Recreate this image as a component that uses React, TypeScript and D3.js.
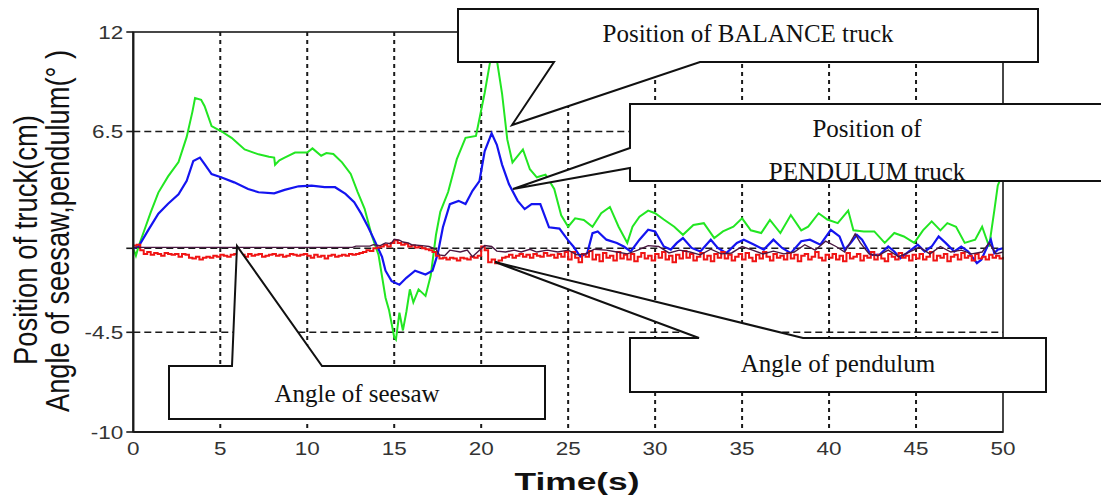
import React from "react";
import * as d3 from "d3";

// Position of BALANCE truck (cm), [time s, value]
const balanceTruck: [number, number][] = [
  [0, 0], [0.15, -0.4], [0.3, 0.1], [0.67, 1.1], [1.0, 2.0], [1.44, 3.1], [2.0, 4.0], [2.6, 4.8],
  [3.07, 6.2], [3.4, 7.6], [3.55, 8.35], [3.9, 8.25], [4.1, 7.9], [4.5, 6.8], [5.08, 6.5], [5.65, 6.15],
  [6.0, 5.85], [6.4, 5.5], [7.2, 5.23], [7.8, 5.1], [8.1, 5.05], [8.15, 4.65], [8.4, 4.9], [8.7, 5.05],
  [9.3, 5.33], [10.0, 5.33], [10.3, 5.56], [10.8, 5.15], [11.1, 5.3], [11.5, 5.25], [12.0, 4.78],
  [12.5, 4.14], [12.9, 3.13], [13.3, 2.2], [13.7, 0.74], [14.1, -0.36], [14.5, -2.65], [14.7, -3.3],
  [15.0, -4.76], [15.1, -4.9], [15.3, -3.45], [15.5, -4.4], [15.7, -3.4], [15.9, -2.2], [16.1, -2.9],
  [16.4, -2.2], [16.8, -2.55], [17.1, -1.46], [17.4, 0.74], [17.65, 2.03], [18.1, 3.13], [18.6, 4.96],
  [19.1, 6.15], [19.7, 6.25], [20.2, 8.63], [20.5, 10.28], [20.7, 10.9], [20.9, 10.46], [21.2, 8.6],
  [21.5, 6.06], [21.8, 4.78], [22.4, 5.5], [22.8, 4.4], [23.2, 3.95], [23.7, 4.1], [24.2, 3.3],
  [24.6, 1.84], [25.0, 1.2], [25.4, 1.67], [25.9, 1.58], [26.4, 1.2], [26.9, 1.95], [27.4, 2.3],
  [27.9, 1.2], [28.4, 0.3], [28.7, 1.2], [29.1, 1.76], [29.6, 2.1], [30.0, 1.95], [30.5, 1.6],
  [31.1, 1.2], [31.6, 0.75], [32.2, 1.3], [32.8, 1.4], [33.4, 0.57], [33.9, 0.94], [34.5, 1.2],
  [35.0, 1.67], [35.5, 1.0], [36.1, 0.85], [36.6, 1.58], [37.2, 0.85], [37.8, 1.85], [38.4, 1.0],
  [38.8, 1.2], [39.4, 1.95], [39.9, 1.6], [40.5, 1.4], [41.1, 2.1], [41.4, 1.0], [42.0, 0.94],
  [42.6, 0.94], [43.2, 0.3], [43.75, 0.85], [44.3, 0.66], [44.9, 0.3], [45.4, 1.0], [45.9, 1.5],
  [46.4, 1.0], [46.8, 1.4], [47.3, 1.2], [47.8, 0.3], [48.4, 0.48], [48.8, 1.2], [49.2, 0.1],
  [49.5, 2.1], [49.7, 3.5], [50, 4.2],
];

// Position of PENDULUM truck (cm)
const pendulumTruck: [number, number][] = [
  [0, 0], [0.3, 0.1], [0.85, 1.0], [1.44, 1.93], [2.0, 2.48], [2.6, 3.0], [3.07, 3.76], [3.45, 4.86],
  [3.83, 5.05], [4.1, 4.68], [4.5, 4.13], [5.08, 3.94], [5.8, 3.67], [6.6, 3.3], [7.2, 3.12],
  [8.1, 3.06], [8.7, 3.25], [9.5, 3.45], [10.25, 3.49], [11.0, 3.4], [11.6, 3.4], [12.2, 3.03],
  [12.7, 2.57], [13.1, 1.93], [13.5, 1.19], [13.9, 0.37], [14.3, -0.46], [14.5, -1.2], [14.85, -1.76],
  [15.3, -1.95], [15.7, -1.58], [16.2, -1.2], [16.8, -1.4], [17.2, -1.2], [17.5, -0.3], [17.8, 1.17],
  [18.2, 2.46], [18.7, 2.64], [19.1, 2.46], [19.5, 3.2], [19.9, 3.74], [20.2, 5.4], [20.6, 6.4],
  [20.9, 5.76], [21.2, 4.66], [21.6, 3.56], [22.1, 2.64], [22.5, 2.18], [22.9, 2.46], [23.4, 2.46],
  [23.9, 1.17], [24.5, 1.1], [25.0, 0.44], [25.3, 0.1], [25.7, -0.44], [26.1, -0.26], [26.4, 0.84],
  [26.7, 0.94], [27.2, 0.48], [27.8, 0.3], [28.2, 0.1], [28.6, -0.17], [29.1, 0.48], [29.6, 1.03],
  [30.0, 0.94], [30.5, 0.1], [30.9, -0.07], [31.25, 0.3], [31.6, 0.57], [32.1, 0.02], [32.6, -0.17],
  [33.2, 0.48], [33.6, 0.02], [34.1, -0.26], [34.7, 0.3], [35.1, 0.48], [35.7, 0.2], [36.25, -0.07],
  [36.8, 0.48], [37.3, 0.02], [37.8, -0.26], [38.4, 0.39], [38.9, 0.48], [39.5, 0.2], [40.1, 1.03],
  [40.6, 0.66], [40.9, -0.07], [41.25, 0.3], [41.6, 0.75], [41.9, 0.48], [42.4, -0.35], [42.9, -0.35],
  [43.4, 0.1], [43.75, -0.17], [44.1, -0.53], [44.6, -0.17], [45.1, 0.2], [45.5, -0.17], [45.9, 0.1],
  [46.3, 0.66], [46.7, 0.3], [47.2, -0.17], [47.6, 0.1], [48.0, -0.17], [48.5, -0.8], [48.75, -0.62],
  [49.1, 0.1], [49.3, 0.48], [49.5, -0.26], [49.7, -0.07], [50, 0],
];

// Angle of seesaw (deg)
const seesawAngle: [number, number][] = [
  [0, 0.05], [12.6, 0.05], [12.8, 0.12], [13.6, 0.12], [13.8, 0.2], [14.2, 0.15], [14.5, 0.3],
  [14.8, 0.25], [15.0, 0.5], [15.3, 0.45], [15.5, 0.35], [15.8, 0.3], [16.0, 0.2], [16.6, 0.15],
  [17.0, 0.1], [17.4, -0.05], [17.6, -0.35], [17.9, -0.4], [18.2, -0.1], [18.8, -0.2], [19.2, -0.1],
  [19.5, -0.45], [19.9, -0.1], [20.2, 0.15], [20.6, 0.1], [20.9, -0.15], [21.4, -0.2], [21.9, -0.1],
  [22.3, -0.2], [22.8, -0.05], [23.2, -0.2], [23.8, -0.1], [24.4, -0.2], [25.0, -0.1], [25.5, -0.35],
  [26.0, -0.3], [26.5, -0.05], [27.2, -0.1], [27.8, -0.2], [28.4, -0.3], [29.0, -0.1], [29.6, 0.15],
  [30.2, 0.1], [30.8, -0.25], [31.4, -0.1], [32.0, -0.2], [32.6, -0.35], [33.2, -0.05], [33.8, -0.3],
  [34.4, -0.25], [35.0, 0.1], [35.6, -0.1], [36.2, -0.3], [36.8, -0.15], [37.4, -0.3], [38.0, -0.2],
  [38.6, 0.2], [39.2, -0.1], [39.8, 0.4], [40.4, 0.1], [40.9, -0.2], [41.5, 0.8], [41.8, 0.3],
  [42.3, -0.3], [42.8, -0.4], [43.4, -0.1], [44.0, -0.45], [44.6, -0.2], [45.2, 0.05], [45.8, -0.3],
  [46.4, 0.1], [47.0, -0.2], [47.6, -0.1], [48.2, -0.3], [48.8, -0.2], [49.2, 0.3], [49.6, -0.3],
  [50, -0.2],
];

// Angle of pendulum (deg), one sample every 0.2 s
const pendulumAngleStep = 0.2;
const pendulumAngle: number[] = [
  0.15, 0.2, -0.1, -0.3, -0.2, -0.35, -0.25, -0.3, -0.4, -0.25, -0.3, -0.35, -0.3, -0.45, -0.3, -0.35, -0.5, -0.55, -0.45, -0.6, -0.5, -0.45, -0.5, -0.4, -0.45,
  -0.35, -0.4, -0.45, -0.35, -0.3, -0.4, -0.35, -0.45, -0.3, -0.4, -0.35, -0.3, -0.45, -0.4, -0.35, -0.3, -0.4, -0.35, -0.45, -0.4, -0.3, -0.35, -0.4, -0.35, -0.3,
  -0.4, -0.5, -0.35, -0.45, -0.4, -0.55, -0.4, -0.35, -0.45, -0.4, -0.35, -0.4, -0.3, -0.35, -0.3, -0.25, -0.2, -0.1, -0.15, 0, 0.05, 0.1, 0.2, 0.1, 0.3,
  0.45, 0.3, 0.2, 0.25, 0.1, 0.15, 0.05, 0.1, 0, -0.05, -0.1, -0.2, -0.4, -0.55, -0.5, -0.6, -0.5, -0.55, -0.65, -0.5, -0.55, -0.6, -0.45, -0.5, -0.4,
  0.1, -0.1, -0.75, -0.6, -0.8, -0.65, -0.5, -0.45, -0.35, -0.5, -0.4, -0.3, -0.45, -0.35, -0.5, -0.3, -0.4, -0.45, -0.25, -0.4, -0.35, -0.5, -0.3, -0.45, -0.2,
  -0.6, -0.2, -0.5, -0.75, -0.3, -0.45, -0.15, -0.6, -0.35, -0.7, -0.25, -0.5, -0.4, -0.65, -0.2, -0.55, -0.35, -0.6, -0.3, -0.7, -0.45, -0.25, -0.55, -0.4, -0.65,
  -0.3, -0.5, -0.2, -0.6, -0.4, -0.75, -0.35, -0.55, -0.15, -0.5, -0.3, -0.65, -0.45, -0.25, -0.6, -0.4, -0.7, -0.3, -0.5, -0.2, -0.55, -0.35, -0.65, -0.45, -0.3,
  -0.6, -0.25, -0.5, -0.7, -0.35, -0.55, -0.2, -0.45, -0.65, -0.3, -0.5, -0.4, -0.6, -0.25, -0.55, -0.35, -0.7, -0.4, -0.3, -0.6, -0.45, -0.2, -0.5, -0.65, -0.35,
  -0.5, -0.3, -0.6, -0.4, -0.7, -0.25, -0.55, -0.45, -0.3, -0.65, -0.4, -0.5, -0.2, -0.6, -0.35, -0.55, -0.7, -0.3, -0.45, -0.6, -0.25, -0.5, -0.4, -0.65, -0.35,
  -0.55, -0.3, -0.6, -0.45, -0.2, -0.65, -0.4, -0.5, -0.3, -0.7, -0.45, -0.35, -0.6, -0.25, -0.5, -0.4, -0.65, -0.3, -0.55, -0.45, -0.6, -0.35, -0.5, -0.4, -0.55,
  -0.45,
];

const xTicks = [0, 5, 10, 15, 20, 25, 30, 35, 40, 45, 50];
const yTicks = [12, 6.5, 0, -4.5, -10];
const yTickLabels = ["12", "6.5", "", "-4.5", "-10"];
const yGrid = [6.5, 0, -4.5];

const W = 1101;
const H = 495;

// callout boxes (pixel geometry of the annotations)
const callouts = [
  {
    pts: [[458, 9], [1038, 9], [1038, 62], [700, 62], [512, 125], [554, 62], [458, 62]],
    lines: [{ text: "Position of BALANCE truck", x: 748, y: 42 }],
  },
  {
    pts: [[630, 104], [1104, 104], [1104, 181], [630, 181], [630, 168], [513, 189], [630, 148]],
    lines: [
      { text: "Position of", x: 867, y: 137 },
      { text: "PENDULUM truck", x: 867, y: 180 },
    ],
  },
  {
    pts: [[630, 338], [699, 338], [495, 262], [803, 338], [1046, 338], [1046, 392], [630, 392]],
    lines: [{ text: "Angle of pendulum", x: 838, y: 372 }],
  },
  {
    pts: [[169, 366], [232, 366], [237, 246], [322, 366], [545, 366], [545, 419], [169, 419]],
    lines: [{ text: "Angle of seesaw", x: 357, y: 402 }],
  },
];

export default function App() {
  const x = d3.scaleLinear().domain([0, 50]).range([133.3, 1003]);
  const y = d3
    .scaleLinear()
    .domain([-10, -4.5, 0, 6.5, 12])
    .range([432, 332.3, 248.3, 131.5, 32]);

  const line = d3
    .line<[number, number]>()
    .x((d) => x(d[0]))
    .y((d) => y(d[1]));

  const stepLine = d3
    .line<number>()
    .x((_, i) => x(i * pendulumAngleStep))
    .y((d) => y(d))
    .curve(d3.curveStepAfter);

  const sans = "'Liberation Sans', Arial, sans-serif";
  const serif = "'Liberation Serif', 'Times New Roman', serif";

  return (
    <svg
      width={W}
      height={H}
      style={{ position: "absolute", left: 0, top: 0, background: "#fff" }}
    >
      {/* grid */}
      {xTicks.slice(1, -1).map((t) => (
        <line
          key={"gx" + t}
          x1={x(t)}
          x2={x(t)}
          y1={y(12)}
          y2={y(-10)}
          stroke="#1a1a1a"
          strokeWidth={2}
          strokeDasharray="4,4"
        />
      ))}
      {yGrid.map((v) => (
        <line
          key={"gy" + v}
          x1={x(0)}
          x2={x(50)}
          y1={y(v)}
          y2={y(v)}
          stroke="#1a1a1a"
          strokeWidth={1.5}
          strokeDasharray="7,4"
        />
      ))}

      {/* series */}
      <path d={line(balanceTruck) || ""} fill="none" stroke="#22e622" strokeWidth={2} />
      <path d={line(pendulumTruck) || ""} fill="none" stroke="#1414f0" strokeWidth={2.2} />
      <path d={stepLine(pendulumAngle) || ""} fill="none" stroke="#f01414" strokeWidth={2} />
      <path d={line(seesawAngle) || ""} fill="none" stroke="#4a1842" strokeWidth={1.4} />

      {/* frame */}
      <rect
        x={x(0)}
        y={y(12)}
        width={x(50) - x(0)}
        height={y(-10) - y(12)}
        fill="none"
        stroke="#1a1a1a"
        strokeWidth={1.6}
      />
      <line x1={x(0)} x2={x(0)} y1={y(12)} y2={y(-10)} stroke="#1a1a1a" strokeWidth={2.2} />
      <line x1={x(0)} x2={x(50)} y1={y(-10)} y2={y(-10)} stroke="#1a1a1a" strokeWidth={2.2} />

      {/* y ticks */}
      {yTicks.map((v, i) => (
        <g key={"yt" + v}>
          <line x1={x(0) - 7} x2={x(0)} y1={y(v)} y2={y(v)} stroke="#1a1a1a" strokeWidth={1.6} />
          <text
            transform={`translate(${x(0) - 10},${y(v) + 6.5}) scale(1.25,1)`}
            textAnchor="end"
            fontFamily={sans}
            fontSize={18}
            fill="#333"
          >
            {yTickLabels[i]}
          </text>
        </g>
      ))}

      {/* x ticks */}
      {xTicks.map((t) => (
        <text
          key={"xt" + t}
          transform={`translate(${x(t)},${455}) scale(1.25,1)`}
          textAnchor="middle"
          fontFamily={sans}
          fontSize={18}
          fill="#333"
        >
          {t}
        </text>
      ))}

      {/* axis titles */}
      <text
        transform="translate(37,240) scale(1.25,1) rotate(-90)"
        textAnchor="middle"
        fontFamily={sans}
        fontSize={26}
        fill="#111"
        textLength={250}
        lengthAdjust="spacingAndGlyphs"
      >
        Position of truck(cm)
      </text>
      <text
        transform="translate(69,231) scale(1.25,1) rotate(-90)"
        textAnchor="middle"
        fontFamily={sans}
        fontSize={26}
        fill="#111"
        textLength={362}
        lengthAdjust="spacingAndGlyphs"
      >
        Angle of seesaw,pendulum(° )
      </text>
      <text
        x={577}
        y={490}
        textAnchor="middle"
        fontFamily={sans}
        fontWeight="bold"
        fontSize={23}
        fill="#111"
        textLength={125}
        lengthAdjust="spacingAndGlyphs"
      >
        Time(s)
      </text>

      {/* callouts */}
      {callouts.map((c, i) => (
        <g key={"c" + i}>
          <polygon
            points={c.pts.map((p) => p.join(",")).join(" ")}
            fill="#fff"
            stroke="#111"
            strokeWidth={2}
          />
          {c.lines.map((l) => (
            <text
              key={l.text}
              x={l.x}
              y={l.y}
              textAnchor="middle"
              fontFamily={serif}
              fontSize={25}
              fill="#111"
            >
              {l.text}
            </text>
          ))}
        </g>
      ))}
    </svg>
  );
}
